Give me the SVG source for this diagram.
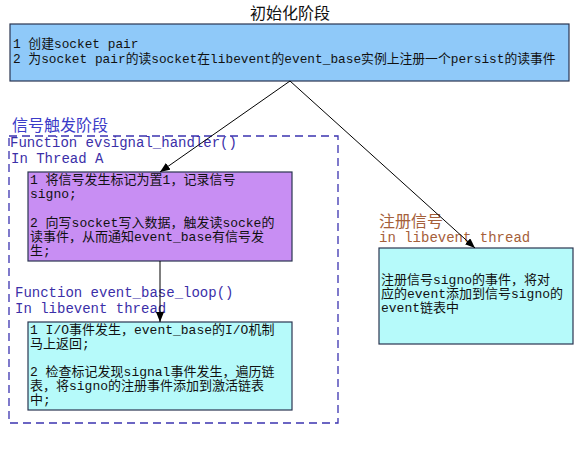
<svg xmlns="http://www.w3.org/2000/svg" width="585" height="450" viewBox="0 0 585 450">
<defs>
<marker id="arr" markerWidth="10" markerHeight="8" refX="10" refY="4" orient="auto" markerUnits="userSpaceOnUse">
<path d="M0,0 L10,4 L0,8 Z" fill="#000"/>
</marker>
<style>
.t{font-family:"Liberation Mono","Noto Sans CJK SC",monospace;font-size:13px;fill:#111}
.lbl{font-family:"Liberation Mono","Noto Sans CJK SC",monospace;font-size:14px;fill:#3b2fa8}
.zh{font-family:"Noto Sans CJK SC","Liberation Sans",sans-serif;font-size:16px}
.box{stroke:#2a3550;stroke-width:1.2}
.conn{stroke:#000;stroke-width:1;fill:none}
</style>
</defs>
<rect width="585" height="450" fill="#fff"/>
<g id="title"><text class="zh" x="290" y="19" text-anchor="middle" fill="#111">初始化阶段</text></g>
<g id="init">
<rect class="box" x="10" y="24" width="559" height="57" fill="#8fc9f9"/>
<text class="t" x="13" y="48" style="font-size:12.8px">1 创建socket pair</text>
<text class="t" x="13" y="63" style="font-size:12.8px">2 为socket pair的读socket在libevent的event_base实例上注册一个persist的读事件</text>
</g>
<g id="signal-stage">
<rect x="9" y="136" width="329" height="287" fill="none" stroke="#3b33b0" stroke-width="1.3" stroke-dasharray="8,5"/>
<text class="zh" x="12" y="131" fill="#3b3bc8">信号触发阶段</text>
<text class="lbl" x="10" y="147">Function evsignal_handler()</text>
<text class="lbl" x="11" y="163">In Thread A</text>
<text class="lbl" x="15" y="297">Function event_base_loop()</text>
<text class="lbl" x="15" y="313">In libevent thread</text>
</g>
<g id="handler">
<rect class="box" x="28" y="172" width="264" height="89" fill="#c88ef3"/>
<text class="t" x="30" y="184">1 将信号发生标记为置1，记录信号</text>
<text class="t" x="30" y="198">signo;</text>
<text class="t" x="30" y="227">2 向写socket写入数据，触发读socke的</text>
<text class="t" x="30" y="241">读事件，从而通知event_base有信号发</text>
<text class="t" x="30" y="255">生;</text>
</g>
<g id="loop">
<rect class="box" x="28" y="322" width="264" height="88" fill="#b6fafa"/>
<text class="t" x="30" y="334">1 I/O事件发生，event_base的I/O机制</text>
<text class="t" x="30" y="348">马上返回;</text>
<text class="t" x="30" y="376">2 检查标记发现signal事件发生，遍历链</text>
<text class="t" x="30" y="390">表，将signo的注册事件添加到激活链表</text>
<text class="t" x="30" y="404">中;</text>
</g>
<g id="register">
<text class="zh" x="379" y="227" fill="#a5603a">注册信号</text>
<text class="lbl" x="379" y="242" style="fill:#a5603a">in libevent thread</text>
<rect class="box" x="379" y="248" width="194" height="96" fill="#b6fafa"/>
<text class="t" x="381" y="284">注册信号signo的事件，将对</text>
<text class="t" x="381" y="298">应的event添加到信号signo的</text>
<text class="t" x="381" y="312">event链表中</text>
</g>
<g id="connectors">
<line class="conn" x1="290" y1="81" x2="160" y2="172" marker-end="url(#arr)"/>
<line class="conn" x1="290" y1="81" x2="475" y2="248" marker-end="url(#arr)"/>
<line class="conn" x1="160" y1="261" x2="160" y2="322" marker-end="url(#arr)"/>
</g>
</svg>
